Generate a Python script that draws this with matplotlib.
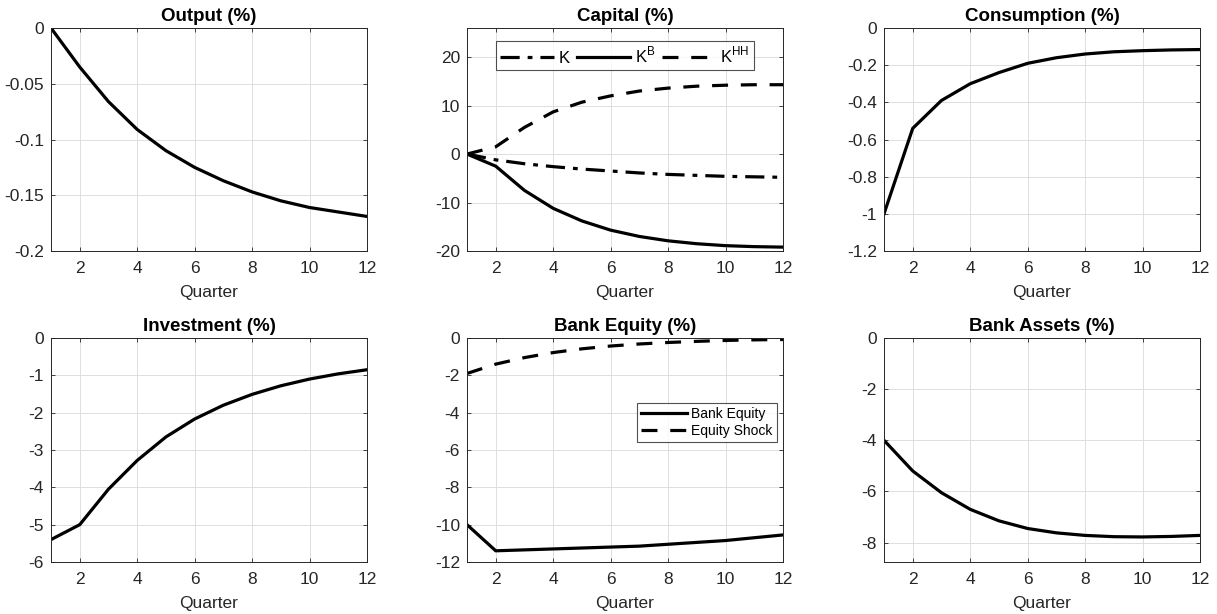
import matplotlib
matplotlib.use("Agg")
import matplotlib.pyplot as plt

plt.rcParams['font.family'] = ['Liberation Sans', 'DejaVu Sans']
plt.rcParams['axes.unicode_minus'] = False

quarters = list(range(1, 13))

output = [0.0, -0.035, -0.066, -0.091, -0.110, -0.125, -0.137, -0.147, -0.155, -0.161, -0.165, -0.169]

capital_k = [0.0, -1.2, -2.0, -2.6, -3.1, -3.5, -3.9, -4.2, -4.4, -4.6, -4.7, -4.8]
capital_kb = [0.0, -2.5, -7.5, -11.2, -13.8, -15.7, -17.0, -17.9, -18.5, -18.9, -19.1, -19.2]
capital_khh = [0.0, 1.5, 5.5, 8.7, 10.7, 12.0, 13.0, 13.6, 14.0, 14.2, 14.3, 14.3]

consumption = [-1.0, -0.54, -0.39, -0.30, -0.24, -0.19, -0.16, -0.14, -0.128, -0.122, -0.118, -0.116]

investment = [-5.4, -5.0, -4.05, -3.28, -2.65, -2.17, -1.80, -1.51, -1.28, -1.10, -0.96, -0.85]

bank_equity = [-10.0, -11.4, -11.35, -11.3, -11.25, -11.2, -11.15, -11.05, -10.95, -10.85, -10.7, -10.55]
equity_shock = [-1.9, -1.4, -1.05, -0.78, -0.58, -0.43, -0.32, -0.24, -0.18, -0.13, -0.10, -0.08]

bank_assets = [-4.0, -5.2, -6.05, -6.7, -7.15, -7.45, -7.62, -7.72, -7.77, -7.78, -7.76, -7.72]

W, H = 1217, 614
fig = plt.figure(figsize=(W / 100, H / 100), dpi=100)

AX_COLOR = '#262626'
LW = 2.3
FS = 12.5


def make_axes(left_px, top_px, bottom_px, width_px=316):
    ax = fig.add_axes([left_px / W, 1 - bottom_px / H, width_px / W, (bottom_px - top_px) / H])
    for s in ax.spines.values():
        s.set_color(AX_COLOR)
        s.set_linewidth(0.7)
    ax.tick_params(direction='in', length=3, width=0.6, colors=AX_COLOR,
                   labelsize=FS, top=True, right=True)
    ax.tick_params(axis='x', pad=7)
    ax.tick_params(axis='y', pad=5)
    ax.grid(True, color='#dedede', linewidth=0.7)
    ax.set_axisbelow(True)
    ax.set_xlim(1, 12)
    ax.set_xticks([2, 4, 6, 8, 10, 12])
    ax.set_xlabel('Quarter', fontsize=FS, color=AX_COLOR, labelpad=7)
    return ax


def title(ax, text):
    ax.set_title(text, fontsize=13.5, fontweight='bold', color='black', pad=5)


lefts = [51, 467, 884]
row1 = (28, 251)
row2 = (338, 562)

# Output
ax = make_axes(lefts[0], *row1)
ax.plot(quarters, output, color='black', lw=LW)
ax.set_ylim(-0.2, 0)
ax.set_yticks([-0.2, -0.15, -0.1, -0.05, 0])
ax.set_yticklabels(['-0.2', '-0.15', '-0.1', '-0.05', '0'])
title(ax, 'Output (%)')

# Capital
ax = make_axes(lefts[1], *row1)
ax.plot(quarters, capital_k, color='black', lw=LW, ls=(0, (6, 2.5, 1.5, 2.5)), label='K')
ax.plot(quarters, capital_kb, color='black', lw=LW, ls='-', label='K$^{\\mathregular{B}}$')
ax.plot(quarters, capital_khh, color='black', lw=LW, ls=(0, (5, 4)), label='K$^{\\mathregular{HH}}$')
ax.set_ylim(-20, 26)
ax.set_yticks([-20, -10, 0, 10, 20])
leg = ax.legend(ncol=3, loc='upper center', bbox_to_anchor=(0.5, 0.942), borderaxespad=0,
                fontsize=12, frameon=True, fancybox=False, handlelength=3.2,
                columnspacing=0.4, handletextpad=0.3, borderpad=0.25)
leg.get_frame().set_edgecolor(AX_COLOR)
leg.get_frame().set_linewidth(0.8)
title(ax, 'Capital (%)')

# Consumption
ax = make_axes(lefts[2], *row1)
ax.plot(quarters, consumption, color='black', lw=LW)
ax.set_ylim(-1.2, 0)
ax.set_yticks([-1.2, -1, -0.8, -0.6, -0.4, -0.2, 0])
ax.set_yticklabels(['-1.2', '-1', '-0.8', '-0.6', '-0.4', '-0.2', '0'])
title(ax, 'Consumption (%)')

# Investment
ax = make_axes(lefts[0], *row2)
ax.plot(quarters, investment, color='black', lw=LW)
ax.set_ylim(-6, 0)
ax.set_yticks([-6, -5, -4, -3, -2, -1, 0])
title(ax, 'Investment (%)')

# Bank Equity
ax = make_axes(lefts[1], *row2)
ax.plot(quarters, bank_equity, color='black', lw=LW, ls='-', label='Bank Equity')
ax.plot(quarters, equity_shock, color='black', lw=LW, ls=(0, (5, 4)), label='Equity Shock')
ax.set_ylim(-12, 0)
ax.set_yticks([-12, -10, -8, -6, -4, -2, 0])
leg = ax.legend(loc='upper right', bbox_to_anchor=(0.981, 0.71), borderaxespad=0,
                fontsize=10, frameon=True, fancybox=False, handlelength=3.3,
                handletextpad=0.3, borderpad=0.3, labelspacing=0.2)
leg.get_frame().set_edgecolor(AX_COLOR)
leg.get_frame().set_linewidth(0.8)
title(ax, 'Bank Equity (%)')

# Bank Assets
ax = make_axes(lefts[2], *row2)
ax.plot(quarters, bank_assets, color='black', lw=LW)
ax.set_ylim(-8.76, 0)
ax.set_yticks([-8, -6, -4, -2, 0])
title(ax, 'Bank Assets (%)')

fig.savefig('out.png', dpi=100, facecolor='white')
